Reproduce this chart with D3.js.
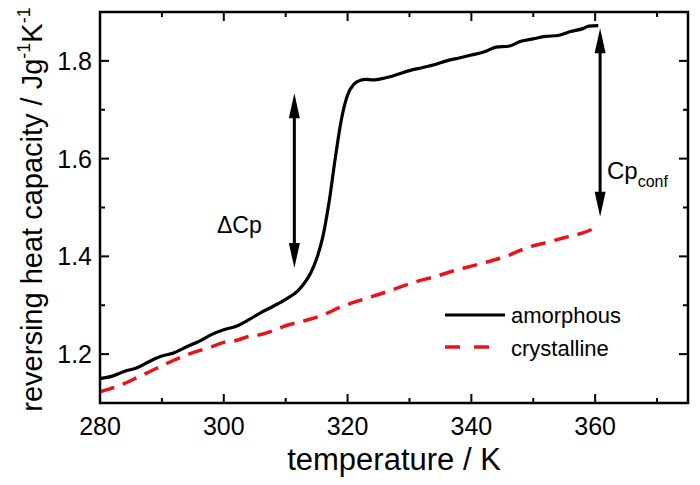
<!DOCTYPE html>
<html><head><meta charset="utf-8">
<script src="https://cdn.jsdelivr.net/npm/d3@7"></script>
<style>body{margin:0;background:#fff}text{font-family:"Liberation Sans",Arial,sans-serif;fill:#000}</style>
</head><body><svg id="c" width="700" height="485"></svg>
<script>
const amorphousT = [280,282,284,286,288,290,292,294,296,298,300,302,304,306,308,310,312,313,314,315,316,317,318,319,320,321,322,323,324,326,328,330,332,334,336,338,340,342,344,346,348,350,352,354,356,358,359,360.5];
const amorphousCp = [1.150,1.155,1.165,1.172,1.185,1.196,1.203,1.215,1.226,1.240,1.250,1.257,1.270,1.285,1.298,1.312,1.330,1.345,1.365,1.395,1.440,1.510,1.600,1.680,1.730,1.752,1.760,1.762,1.761,1.765,1.772,1.780,1.786,1.792,1.800,1.806,1.812,1.818,1.828,1.830,1.840,1.845,1.850,1.852,1.860,1.866,1.871,1.872];
const crystT = [280,283,286,289,292,295,298,300,302,304,306,308,310,313,316,319,322,325,328,331,334,337,340,343,346,349,352,355,358,360];
const crystCp = [1.123,1.135,1.152,1.170,1.188,1.203,1.215,1.224,1.228,1.236,1.240,1.248,1.258,1.268,1.280,1.297,1.310,1.322,1.335,1.348,1.358,1.370,1.380,1.390,1.402,1.418,1.428,1.438,1.448,1.458];
const xTicks = [280,300,320,340,360];
const xMinor = [290,310,330,350,370];
const yTicks = [1.2,1.4,1.6,1.8];
const yMinor = [1.3,1.5,1.7];
const seriesNames = ["amorphous","crystalline"];
const dCp = {t:311.4, lo:1.376, hi:1.734};
const cpConf = {t:360.8, lo:1.481, hi:1.867};

const svg = d3.select("#c");
const L=100,R=688,T=12,B=403;
const x = d3.scaleLinear().domain([280,375]).range([L,R]);
const y = d3.scaleLinear().domain([1.1,1.9]).range([B,T]);
function txt(g, s, px, py, size, anchor){
  return g.append("text").attr("x",px).attr("y",py)
    .attr("font-size",size).attr("text-anchor",anchor||"start").text(s);
}
const line = d3.line().x(d=>x(d[0])).y(d=>y(d[1])).curve(d3.curveMonotoneX);
svg.append("path").datum(crystT.map((t,i)=>[t,crystCp[i]])).attr("d",line)
  .attr("fill","none").attr("stroke","#e8141c").attr("stroke-width",3.5).attr("stroke-dasharray","15,9");
svg.append("path").datum(amorphousT.map((t,i)=>[t,amorphousCp[i]])).attr("d",line)
  .attr("fill","none").attr("stroke","#000").attr("stroke-width",3.2);
svg.append("rect").attr("x",L).attr("y",T).attr("width",R-L).attr("height",B-T)
  .attr("fill","none").attr("stroke","#000").attr("stroke-width",2.5);
const tk = svg.append("g").attr("stroke","#000").attr("stroke-width",2);
xTicks.forEach(v=>{tk.append("line").attr("x1",x(v)).attr("x2",x(v)).attr("y1",B).attr("y2",B-9);
  tk.append("line").attr("x1",x(v)).attr("x2",x(v)).attr("y1",T).attr("y2",T+9);});
xMinor.forEach(v=>{tk.append("line").attr("x1",x(v)).attr("x2",x(v)).attr("y1",B).attr("y2",B-5);
  tk.append("line").attr("x1",x(v)).attr("x2",x(v)).attr("y1",T).attr("y2",T+5);});
yTicks.forEach(v=>{tk.append("line").attr("y1",y(v)).attr("y2",y(v)).attr("x1",L).attr("x2",L+9);
  tk.append("line").attr("y1",y(v)).attr("y2",y(v)).attr("x1",R).attr("x2",R-9);});
yMinor.forEach(v=>{tk.append("line").attr("y1",y(v)).attr("y2",y(v)).attr("x1",L).attr("x2",L+5);
  tk.append("line").attr("y1",y(v)).attr("y2",y(v)).attr("x1",R).attr("x2",R-5);});
const lab = svg.append("g");
xTicks.forEach(v=>txt(lab, String(v), x(v), B+32, 25, "middle"));
yTicks.forEach(v=>txt(lab, v.toFixed(1), L-8, y(v)+9, 25, "end"));
txt(lab,"temperature / K",(L+R)/2,B+67,31,"middle");
const yt = lab.append("text").attr("transform",`translate(42,${(T+B)/2+2}) rotate(-90)`)
  .attr("font-size",29).attr("text-anchor","middle");
yt.append("tspan").text("reversing heat capacity / Jg");
yt.append("tspan").attr("font-size",18).attr("dy",-12).text("-1");
yt.append("tspan").attr("dy",12).text("K");
yt.append("tspan").attr("font-size",18).attr("dy",-12).text("-1");
function arrow(t,lo,hi){
  const g = svg.append("g");
  const X=x(t), y1=y(hi), y2=y(lo), hl=25, hw=5.5;
  g.append("line").attr("x1",X).attr("x2",X).attr("y1",y1+hl-4).attr("y2",y2-hl+4).attr("stroke","#000").attr("stroke-width",3);
  g.append("path").attr("d",`M${X},${y1} L${X+hw},${y1+hl} L${X-hw},${y1+hl} Z`).attr("fill","#000");
  g.append("path").attr("d",`M${X},${y2} L${X+hw},${y2-hl} L${X-hw},${y2-hl} Z`).attr("fill","#000");
}
arrow(dCp.t,dCp.lo,dCp.hi);
arrow(cpConf.t,cpConf.lo,cpConf.hi);
txt(svg,"\u0394Cp",217,233,23,"start");
const cc = svg.append("text").attr("x",607).attr("y",179).attr("font-size",24);
cc.append("tspan").text("Cp");
cc.append("tspan").attr("font-size",16).attr("dy",8).text("conf");
const lg = svg.append("g");
lg.append("line").attr("x1",445).attr("x2",505).attr("y1",315).attr("y2",315).attr("stroke","#000").attr("stroke-width",3);
lg.append("line").attr("x1",445).attr("x2",490).attr("y1",347).attr("y2",347).attr("stroke","#e8141c").attr("stroke-width",3.5).attr("stroke-dasharray","15,14");
txt(lg,seriesNames[0],511,323,22,"start");
txt(lg,seriesNames[1],511,356,22,"start");
</script></body></html>
